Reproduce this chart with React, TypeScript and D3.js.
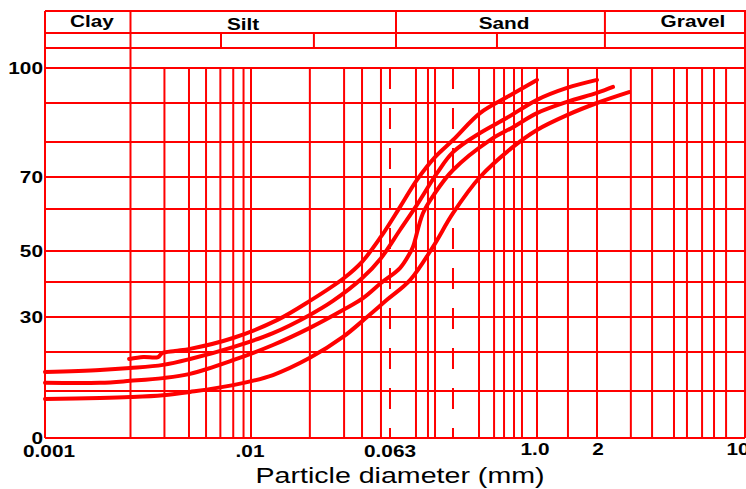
import React from "react";
import * as d3 from "d3";

const W = 746;
const H = 489;

// Axis ticks (diameter in mm, percent passing)
const X_TICKS = [0.001, 0.01, 0.063, 1, 2, 10];
const X_TICK_LABELS = ["0.001", ".01", "0.063", "1.0", "2", "10"];
const Y_TICKS = [0, 30, 50, 70, 100];
const Y_GRID = [0, 10, 20, 30, 40, 50, 60, 70, 80, 90, 100];

// Vertical grid lines (diameter, mm)
const GRID_D = [
  0.0026, 0.0038, 0.005, 0.00605, 0.0071, 0.0082, 0.0092, 0.01,
  0.0218, 0.0343, 0.0435, 0.0559,
  0.1027, 0.1287, 0.1469, 0.336, 0.446, 0.538, 0.649, 0.754, 1,
  1.43, 2, 2.89, 3.64, 4.62, 5.32, 6.27, 7.14, 8.14, 10,
];
const DASHED_D = [0.063, 0.206];

// Header classes
const CLASSES = ["Clay", "Silt", "Sand", "Gravel"];
const CLASS_LABEL_D = [0.00169, 0.00915, 0.538, 5.68];
const CLASS_BOUNDS = [0.0705, 2.18];
const SUB_BOUNDS = [0.00715, 0.023, 0.471];

// Grading curves: [diameter mm, percent passing]
const CURVE_A: [number, number][] = [
  [0.00256, 18.2], [0.003, 18.7], [0.00354, 18.7], [0.0037, 19.7], [0.00428, 20.3],
  [0.00506, 20.9], [0.00818, 24.0], [0.0141, 29.1], [0.0218, 34.6], [0.0343, 41.3],
  [0.0435, 46.5], [0.0559, 53.4], [0.076, 60.6], [0.1046, 69.1], [0.1469, 75.7],
  [0.2061, 80.5], [0.3424, 87.4], [0.5689, 91.7], [1.0, 96.6],
];
const CURVE_B: [number, number][] = [
  [0.001, 14.9], [0.00185, 15.4], [0.00259, 15.9], [0.00374, 16.7], [0.00506, 18.2],
  [0.00818, 21.4], [0.01338, 25.4], [0.0218, 30.6], [0.0296, 34.6], [0.0435, 41.2],
  [0.0559, 47.7], [0.076, 55.0], [0.1046, 61.3], [0.1525, 71.1], [0.2061, 77.1],
  [0.3424, 82.3], [0.5689, 86.2], [1.0, 90.9], [1.414, 94.3], [2.0, 96.6],
];
const CURVE_C: [number, number][] = [
  [0.001, 12.1], [0.00185, 12.1], [0.00259, 12.6], [0.00374, 13.3], [0.00506, 14.4],
  [0.00818, 17.9], [0.01338, 22.0], [0.0218, 26.9], [0.0338, 32.0], [0.0441, 35.4],
  [0.0559, 39.7], [0.076, 44.5], [0.0918, 49.4], [0.0971, 51.0], [0.1171, 59.0],
  [0.1469, 65.0], [0.2061, 72.0], [0.4131, 80.5], [0.6369, 83.8], [1.0, 87.4],
  [1.414, 90.3], [2.0, 92.9], [2.38, 94.6],
];
const CURVE_D: [number, number][] = [
  [0.001, 8.3], [0.00185, 8.5], [0.00259, 8.7], [0.00374, 9.1], [0.00506, 9.8],
  [0.00818, 11.5], [0.01338, 14.1], [0.0218, 18.5], [0.0338, 24.3], [0.0465, 30.0],
  [0.0605, 34.9], [0.0918, 40.6], [0.1414, 51.0], [0.2061, 59.0], [0.3424, 70.0],
  [0.6369, 78.6], [1.0, 83.1], [1.414, 86.9], [2.0, 90.0], [2.833, 93.1],
];
const CURVES = [CURVE_A, CURVE_B, CURVE_C, CURVE_D];

const X_LABEL_DX = [4, -1, 0, -2, 1, -7];
const CLASS_BASELINE = [27, 30, 29, 27];

const RED = "#ff0000";
const FONT = "'Liberation Sans', Arial, Helvetica, sans-serif";

export default function App() {
  const x = d3.scaleLog().domain(X_TICKS).range([45, 251, 390, 537, 597, 745]);
  const y = d3
    .scaleLinear()
    .domain(Y_GRID)
    .range([438, 391, 352, 317, 282, 251, 209, 177, 142, 103, 68]);

  const top = 11;
  const row1 = 33;
  const row2 = 48;
  const yTop = y(100);
  const yBot = y(0);
  const xL = x(0.001);
  const xR = W + 2;

  const line = d3
    .line<[number, number]>()
    .x((d) => x(d[0]))
    .y((d) => y(d[1]))
    .curve(d3.curveCatmullRom.alpha(0.5));

  const sx = 1.3;

  return (
    <svg
      width={W}
      height={H}
      style={{ position: "absolute", left: 0, top: 0, background: "#fff" }}
    >
      <rect x={0} y={0} width={W} height={H} fill="#fff" />
      <g stroke={RED} strokeWidth={2} fill="none">
        {[top, row1, row2].map((yy, i) => (
          <line key={"h" + i} x1={xL} x2={xR} y1={yy} y2={yy} />
        ))}
        {Y_GRID.map((v) => (
          <line key={"g" + v} x1={xL} x2={x(10)} y1={y(v)} y2={y(v)} />
        ))}
        <line x1={xL} x2={xL} y1={top} y2={yBot} />
        <line x1={x(GRID_D[0])} x2={x(GRID_D[0])} y1={top} y2={yBot} />
        <line x1={x(10)} x2={x(10)} y1={top} y2={yBot} />
        {CLASS_BOUNDS.map((d) => (
          <line key={"cb" + d} x1={x(d)} x2={x(d)} y1={top} y2={row2} />
        ))}
        {SUB_BOUNDS.map((d) => (
          <line key={"sb" + d} x1={x(d)} x2={x(d)} y1={row1} y2={row2} />
        ))}
        {GRID_D.slice(1).map((d) => (
          <line key={"v" + d} x1={x(d)} x2={x(d)} y1={yTop} y2={yBot} />
        ))}
        {DASHED_D.map((d) => (
          <line
            key={"dd" + d}
            x1={x(d)}
            x2={x(d)}
            y1={yTop}
            y2={yBot}
            strokeDasharray="21 19"
          />
        ))}
      </g>

      <g fill="none" stroke={RED} strokeWidth={4} strokeLinejoin="round" strokeLinecap="round">
        {CURVES.map((c, i) => (
          <path key={"c" + i} d={line(c) || ""} />
        ))}
      </g>

      <g fontFamily={FONT} fontWeight="bold" fontSize={16} fill="#000">
        {CLASSES.map((c, i) => (
          <text
            key={c}
            textAnchor="middle"
            transform={`translate(${x(CLASS_LABEL_D[i])},${CLASS_BASELINE[i]}) scale(${sx},1)`}
          >
            {c}
          </text>
        ))}
        {Y_TICKS.map((v) => (
          <text
            key={"yl" + v}
            textAnchor="end"
            transform={`translate(43,${y(v) + 6}) scale(${sx},1)`}
          >
            {v}
          </text>
        ))}
        {X_TICKS.map((d, i) => (
          <text
            key={"xl" + d}
            textAnchor="middle"
            transform={`translate(${x(d) + X_LABEL_DX[i]},${d >= 1 ? 455 : 457}) scale(${sx},1)`}
          >
            {X_TICK_LABELS[i]}
          </text>
        ))}
      </g>
      <text
        fontFamily={FONT}
        fontSize={22}
        fill="#000"
        textAnchor="middle"
        transform={`translate(400,483) scale(${sx},1)`}
      >
        Particle diameter (mm)
      </text>
    </svg>
  );
}
